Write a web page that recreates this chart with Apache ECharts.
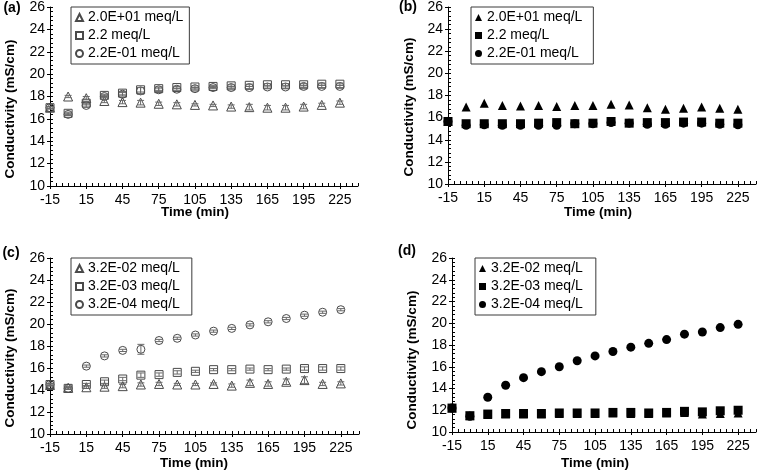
<!DOCTYPE html>
<html>
<head>
<meta charset="utf-8">
<script src="https://cdn.jsdelivr.net/npm/echarts@6/dist/echarts.min.js"></script>
<style>html,body{margin:0;padding:0;background:#fff}#c{width:759px;height:471px}</style>
</head>
<body>
<div id="c"></div>
<script>
// ---- data ----
const times = [-15, 0, 15, 30, 45, 60, 75, 90, 105, 120, 135, 150, 165, 180, 195, 210, 225];
const xTickLabels = [-15, 15, 45, 75, 105, 135, 165, 195, 225];

const namesAB = ['2.0E+01 meq/L', '2.2 meq/L', '2.2E-01 meq/L'];
const namesCD = ['3.2E-02 meq/L', '3.2E-03 meq/L', '3.2E-04 meq/L'];

// panel (a) - open markers
const aTri = [17.0, 18.0, 17.85, 17.6, 17.5, 17.45, 17.35, 17.3, 17.25, 17.2, 17.1, 17.05, 17.0, 17.0, 17.1, 17.25, 17.45];
const aSq  = [17.0, 16.5, 17.4, 18.1, 18.3, 18.6, 18.7, 18.8, 18.85, 18.9, 18.95, 19.0, 19.05, 19.05, 19.05, 19.1, 19.1];
const aCir = [17.0, 16.4, 17.2, 18.0, 18.2, 18.5, 18.6, 18.65, 18.7, 18.8, 18.8, 18.8, 18.85, 18.85, 18.9, 18.9, 18.9];
const aTriErr = [0.1, 0.1, 0.15, 0.15, 0.15, 0.2, 0.15, 0.15, 0.1, 0.1, 0.15, 0.25, 0.2, 0.2, 0.2, 0.15, 0.15];
const aSqErr  = [0.1, 0.1, 0.15, 0.1, 0.15, 0.2, 0.15, 0.1, 0.1, 0.1, 0.1, 0.1, 0.1, 0.1, 0.1, 0.1, 0.1];
const aCirErr = [0.1, 0.1, 0.15, 0.1, 0.15, 0.3, 0.15, 0.1, 0.1, 0.1, 0.1, 0.1, 0.1, 0.1, 0.1, 0.1, 0.1];

// panel (b) - filled markers
const bTri = [15.7, 16.95, 17.3, 17.1, 17.05, 17.1, 17.0, 17.1, 17.1, 17.2, 17.15, 16.9, 16.75, 16.85, 16.95, 16.85, 16.75];
const bSq  = [15.65, 15.45, 15.45, 15.45, 15.45, 15.5, 15.55, 15.45, 15.5, 15.65, 15.5, 15.55, 15.55, 15.6, 15.6, 15.5, 15.5];
const bCir = [15.65, 15.3, 15.35, 15.3, 15.3, 15.3, 15.3, 15.45, 15.45, 15.55, 15.5, 15.4, 15.4, 15.5, 15.5, 15.4, 15.35];

// panel (c) - open markers
const cTri = [14.45, 14.2, 14.25, 14.3, 14.35, 14.5, 14.55, 14.5, 14.5, 14.55, 14.4, 14.65, 14.55, 14.75, 14.9, 14.55, 14.6];
const cSq  = [14.5, 14.15, 14.5, 14.75, 15.0, 15.35, 15.4, 15.6, 15.7, 15.85, 15.85, 15.9, 15.85, 15.9, 15.95, 15.95, 15.95];
const cCir = [14.5, 14.15, 16.17, 17.1, 17.6, 17.7, 18.5, 18.7, 19.0, 19.35, 19.6, 19.92, 20.2, 20.5, 20.8, 21.07, 21.3];
const cTriErr = [0.1, 0.1, 0.1, 0.15, 0.15, 0.15, 0.15, 0.1, 0.1, 0.1, 0.15, 0.25, 0.2, 0.25, 0.3, 0.15, 0.15];
const cSqErr  = [0.1, 0.1, 0.1, 0.15, 0.15, 0.2, 0.15, 0.15, 0.1, 0.1, 0.1, 0.1, 0.1, 0.1, 0.15, 0.15, 0.15];
const cCirErr = [0.1, 0.1, 0.1, 0.1, 0.1, 0.45, 0.1, 0.1, 0.1, 0.1, 0.1, 0.1, 0.1, 0.1, 0.1, 0.1, 0.1];

// panel (d) - filled markers
const dTri = [12.2, 11.5, 11.6, 11.65, 11.65, 11.65, 11.7, 11.7, 11.7, 11.75, 11.7, 11.7, 11.75, 11.8, 11.65, 11.7, 11.75];
const dSq  = [12.2, 11.5, 11.65, 11.7, 11.7, 11.7, 11.75, 11.75, 11.75, 11.8, 11.8, 11.75, 11.8, 11.9, 11.85, 11.95, 12.0];
const dCir = [12.2, 11.45, 13.2, 14.3, 15.0, 15.55, 16.0, 16.55, 17.0, 17.4, 17.8, 18.15, 18.5, 19.0, 19.2, 19.6, 19.9];

// ---- layout ----
const FONT = 'Liberation Sans, Arial, sans-serif';
const grids = [
  {left: 50, top: 7, width: 308, height: 179},
  {left: 448, top: 7, width: 308, height: 177},
  {left: 50, top: 258, width: 309, height: 176},
  {left: 452, top: 258, width: 304, height: 174}
];
const legendPos = [
  {left: 71, top: 7, pr: 6},
  {left: 471, top: 7, pr: 11},
  {left: 71, top: 258, pr: 12},
  {left: 475, top: 258, pr: 13}
];
const panels = [
  {names: namesAB, vals: [aTri, aSq, aCir], errs: [aTriErr, aSqErr, aCirErr], filled: false},
  {names: namesAB, vals: [bTri, bSq, bCir], errs: null, filled: true},
  {names: namesCD, vals: [cTri, cSq, cCir], errs: [cTriErr, cSqErr, cCirErr], filled: false},
  {names: namesCD, vals: [dTri, dSq, dCir], errs: null, filled: true}
];
const symbols = ['triangle', 'rect', 'circle'];
const symSizesOpen = [9, 8, 8];
const symSizesFilled = [9, 9, 9];

const xAxes = [], yAxes = [], series = [], legends = [];
grids.forEach((g, gi) => {
  xAxes.push({
    type: 'value', gridIndex: gi, min: -15, max: 240, position: 'bottom',
    axisLine: {show: true, onZero: false, lineStyle: {color: '#000', width: 1}},
    axisTick: {show: true, inside: false, length: 3, customValues: xTickLabels, lineStyle: {color: '#000'}},
    axisLabel: {show: true, customValues: xTickLabels, margin: 7, color: '#000', fontSize: 14, fontFamily: FONT},
    splitLine: {show: false}
  });
  xAxes.push({
    type: 'value', gridIndex: gi, min: -15, max: 240, interval: 5, position: 'bottom',
    axisLine: {show: false, onZero: false},
    axisTick: {show: true, inside: true, length: 3, lineStyle: {color: '#000'}},
    axisLabel: {show: false}, splitLine: {show: false}
  });
  yAxes.push({
    type: 'value', gridIndex: gi, min: 10, max: 26, interval: 2, position: 'left',
    axisLine: {show: true, onZero: false, lineStyle: {color: '#000', width: 1}},
    axisTick: {show: true, inside: false, length: 3, lineStyle: {color: '#000'}},
    axisLabel: {show: true, margin: 5, color: '#000', fontSize: 14, fontFamily: FONT},
    splitLine: {show: false}
  });
  yAxes.push({
    type: 'value', gridIndex: gi, min: 10, max: 26, interval: 0.4, position: 'left',
    axisLine: {show: false, onZero: false},
    axisTick: {show: true, inside: true, length: 3, lineStyle: {color: '#000'}},
    axisLabel: {show: false}, splitLine: {show: false}
  });

  const p = panels[gi];
  const suffix = gi % 2 === 1 ? '\u200b' : '';
  const legendData = [];
  p.vals.forEach((vals, si) => {
    const name = p.names[si] + suffix;
    legendData.push(name);
    series.push({
      type: 'scatter', name: name, xAxisIndex: gi * 2, yAxisIndex: gi * 2,
      symbol: symbols[si],
      symbolSize: p.filled ? symSizesFilled[si] : symSizesOpen[si],
      itemStyle: p.filled
        ? {color: '#000', borderColor: '#000', borderWidth: 0, opacity: 1}
        : {color: 'rgba(255,255,255,0)', borderColor: '#4a4a4a', borderWidth: 1, opacity: 1},
      data: times.map((t, i) => [t, vals[i]]),
      z: 2, silent: true
    });
  });
  if (p.errs) {
    p.errs.forEach((errs, si) => {
      series.push({
        type: 'custom', xAxisIndex: gi * 2, yAxisIndex: gi * 2, silent: true, z: 3,
        encode: {x: 0, y: 1},
        data: times.map((t, i) => [t, p.vals[si][i], errs[i]]),
        renderItem: function (params, api) {
          const x = api.value(0), y = api.value(1), e = api.value(2);
          const top = api.coord([x, y + e]);
          const bot = api.coord([x, y - e]);
          const hw = 3.5;
          const st = {stroke: '#6a6a6a', lineWidth: 1};
          return {
            type: 'group', children: [
              {type: 'line', shape: {x1: top[0], y1: top[1], x2: bot[0], y2: bot[1]}, style: st},
              {type: 'line', shape: {x1: top[0] - hw, y1: top[1], x2: top[0] + hw, y2: top[1]}, style: st},
              {type: 'line', shape: {x1: bot[0] - hw, y1: bot[1], x2: bot[0] + hw, y2: bot[1]}, style: st}
            ]
          };
        }
      });
    });
  }
  const lp = legendPos[gi];
  legends.push({
    data: legendData, orient: 'vertical', left: lp.left, top: lp.top,
    padding: [3, lp.pr, 3, 4], itemGap: 3, itemWidth: 7, itemHeight: 7,
    borderColor: '#3a3a3a', borderWidth: 1, backgroundColor: '#fff',
    selectedMode: false,
    formatter: n => n.replace('\u200b', ''),
    textStyle: {color: '#000', fontSize: 14, fontFamily: FONT, lineHeight: 15}
  });
});

const titleStyle = {fill: '#000', font: 'bold 13.5px ' + FONT, align: 'center', verticalAlign: 'middle'};
const graphics = [];
[['(a)', 12, 8], ['(b)', 408, 7], ['(c)', 11, 253], ['(d)', 407, 251]].forEach(([t, x, y]) => {
  graphics.push({type: 'text', x: x, y: y, style: {text: t, fill: '#000', font: 'bold 14px ' + FONT, align: 'center', verticalAlign: 'middle'}});
});
[[195, 212], [598, 212], [194, 463], [595, 463]].forEach(([x, y]) => {
  graphics.push({type: 'text', x: x, y: y, style: Object.assign({text: 'Time (min)'}, titleStyle)});
});
[[10, 109], [409, 107], [10, 358], [412, 360]].forEach(([x, y]) => {
  graphics.push({type: 'text', x: x, y: y, rotation: Math.PI / 2, style: Object.assign({text: 'Conductivity (mS/cm)'}, titleStyle)});
});

const chart = echarts.init(document.getElementById('c'), null, {renderer: 'canvas'});
chart.setOption({
  animation: false,
  backgroundColor: '#fff',
  grid: grids,
  xAxis: xAxes,
  yAxis: yAxes,
  legend: legends,
  series: series,
  graphic: graphics
});
</script>
</body>
</html>
